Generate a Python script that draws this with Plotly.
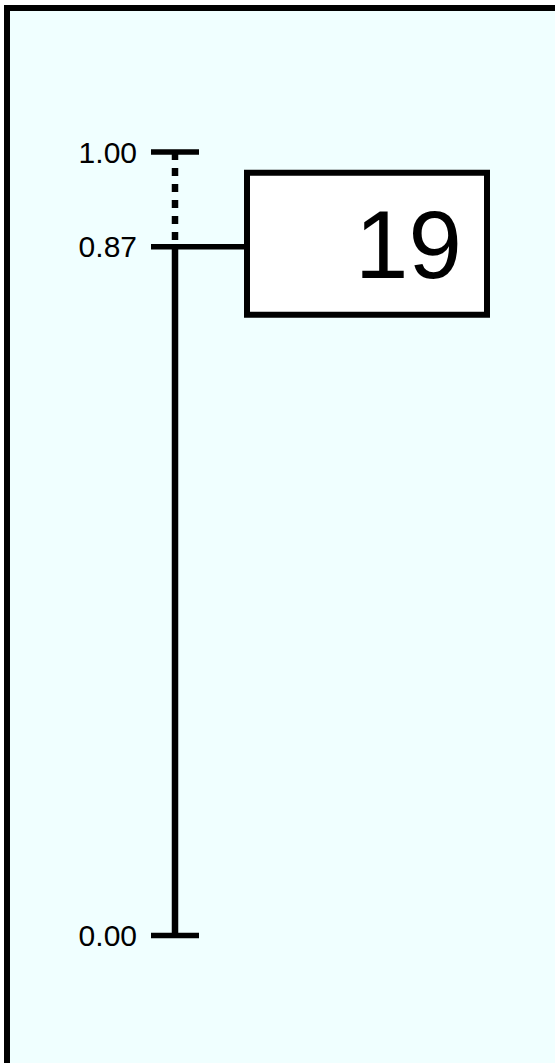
import plotly.graph_objects as go

# ---- data ----
tick_values = [0.0, 0.879, 1.0]
tick_labels = ["0.00", "0.87", "1.00"]
root_height = 1.0
node_height = 0.879
leaf_height = 0.0
node_labels = ["19"]

# ---- layout constants (pixels) ----
W, H = 555, 1063
AXIS_X = 175
TICK_X0, TICK_X1 = 151, 199
BOX_X0, BOX_X1 = 247, 487
PX_TOP, PX_BOTTOM = 152, 935.5   # pixel rows of 1.0 and 0.0
scale = (PX_BOTTOM - PX_TOP) / (root_height - leaf_height)
y_min = leaf_height - (H - PX_BOTTOM) / scale
y_max = leaf_height + PX_BOTTOM / scale

BLACK = "#000000"
BG = "#F0FFFF"
FONT = "Arial, Liberation Sans, sans-serif"

fig = go.Figure()

# solid stem from leaf to node
fig.add_trace(go.Scatter(x=[AXIS_X, AXIS_X], y=[leaf_height, node_height], mode="lines",
                         line=dict(color=BLACK, width=6.5), hoverinfo="skip"))
# dotted stem from root to node
fig.add_trace(go.Scatter(x=[AXIS_X, AXIS_X], y=[root_height, node_height], mode="lines",
                         line=dict(color=BLACK, width=6.5, dash="8px,8px"), hoverinfo="skip"))
# end ticks
for v in [root_height, leaf_height]:
    fig.add_trace(go.Scatter(x=[TICK_X0, TICK_X1], y=[v, v], mode="lines",
                             line=dict(color=BLACK, width=5.5), hoverinfo="skip"))
# connector from axis to node box
fig.add_trace(go.Scatter(x=[TICK_X0, BOX_X0], y=[node_height, node_height], mode="lines",
                         line=dict(color=BLACK, width=5.5), hoverinfo="skip"))

shapes = [
    dict(type="rect", xref="paper", yref="paper", x0=7 / W, x1=1.5, y0=1 - 8 / H, y1=-0.5,
         line=dict(color=BLACK, width=6), fillcolor=BG, layer="below"),
    dict(type="rect", xref="x", yref="y", ysizemode="pixel", yanchor=node_height,
         x0=BOX_X0, x1=BOX_X1, y0=-68, y1=74,
         line=dict(color=BLACK, width=6), fillcolor="white", layer="above"),
]

annotations = [
    dict(x=464, y=node_height, xref="x", yref="y", text=node_labels[0], showarrow=False,
         xanchor="right", yanchor="middle", yshift=2,
         font=dict(family=FONT, size=96, color=BLACK)),
]

fig.update_layout(
    width=W, height=H, autosize=False,
    margin=dict(l=0, r=0, t=0, b=0),
    paper_bgcolor="white", plot_bgcolor="rgba(0,0,0,0)",
    showlegend=False, shapes=shapes, annotations=annotations,
    xaxis=dict(visible=False, range=[0, W], fixedrange=True),
    yaxis=dict(range=[y_min, y_max], showgrid=False, zeroline=False, showline=False,
               ticks="", tickvals=tick_values, ticktext=tick_labels,
               anchor="free", position=TICK_X0 / W, side="left",
               ticklabelstandoff=14,
               tickfont=dict(family=FONT, size=30, color=BLACK),
               fixedrange=True),
)

fig.write_html("out.html", config={"displayModeBar": False},
               post_script="document.body.style.margin='0';document.body.style.overflow='hidden';")
